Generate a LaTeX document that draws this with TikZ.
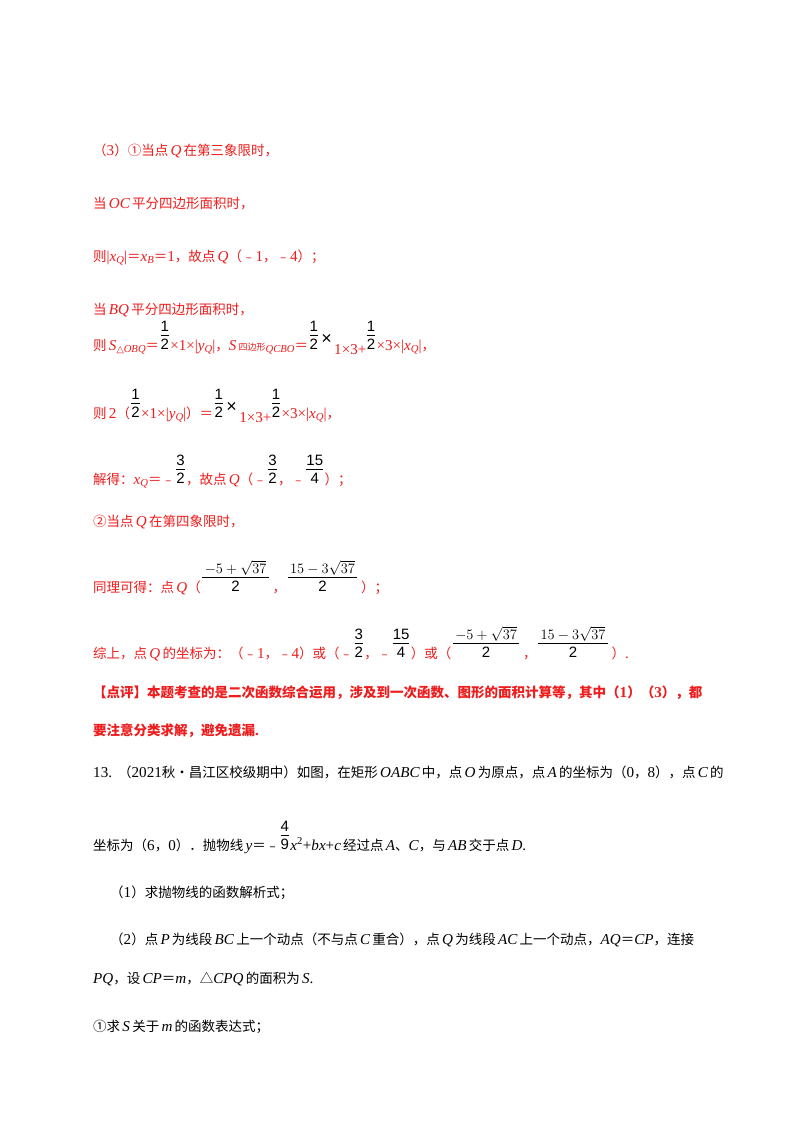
\documentclass[tikz,border=0pt]{standalone}
\usepackage{fontspec}
\setmainfont{Noto Sans CJK SC}
\newfontfamily\tm{Liberation Serif}[Scale=1.12]
\newfontfamily\ar{Liberation Sans}
\newfontfamily\djv{DejaVu Sans}
\definecolor{rd}{RGB}{238,28,28}
\newcommand\I[1]{{\tm\itshape #1}}
\newcommand\R[1]{{\tm #1}}
\newcommand\sub[1]{\raisebox{-2.5pt}{\fontsize{9.5}{10}\selectfont\tm\itshape #1}}
\newcommand\Fr[4]{\node[fr] (#1) at ([xshift=1pt,yshift=-5pt]#2.base east) {\begin{tabular}{@{}c@{}}#3\\[-1pt]\hline\rule{0pt}{14pt}#4\end{tabular}};}
\newcommand\Af[3]{\node[t,#3] (#1) at ([xshift=1pt,yshift=5pt]#2.south east) }
\begin{document}
\begin{tikzpicture}[x=1pt,y=-1pt,
 t/.style={anchor=base west,inner sep=0,text=rd,font=\fontsize{13.5}{16}\selectfont},
 k/.style={t,text=black},
 fr/.style={inner sep=0,anchor=south west,font=\ar\fontsize{15}{17}\selectfont,text=black},
 tx/.style={t,text=black,font=\ar\fontsize{18}{18}\selectfont}]
\useasboundingbox[fill=white] (0,0) rectangle (800,1132);
\node[t] (l1) at (93,155) {（\R{3}）①当点\,\I{Q}\,在第三象限时，};
\node[t] (l2) at (93,208) {当\,\I{OC}\,平分四边形面积时，};
\node[t] (l3) at (93,261) {则\R{|}\I{x}\sub{Q}\R{|}＝\I{x}\sub{B}＝\R{1}，故点\,\I{Q}（﹣\R{1}，﹣\R{4}）；};
\node[t] (l4) at (93,314) {当\,\I{BQ}\,平分四边形面积时，};
% line 5
\node[t] (l5a) at (93,350) {则\,\I{S}\raisebox{-2.5pt}{\fontsize{9.5}{10}\selectfont\djv △}\sub{OBQ}＝};
\Fr{f1}{l5a}{1}{2}
\Af{l5b}{f1}{}{\R{×1×|}\I{y}\sub{Q}\R{|}，\I{S}\,{\fontsize{9}{9}\selectfont 四边形}\sub{QCBO}＝};
\Fr{f2}{l5b}{1}{2}
\node[tx] (x1) at ([xshift=3pt,yshift=11pt]f2.south east) {×};
\node[t] (l5c) at ([xshift=2pt,yshift=-10pt]x1.base east) {\R{1×3+}};
\node[fr] (f3) at ([yshift=-1pt]l5c.base east) {\begin{tabular}{@{}c@{}}1\\[-1pt]\hline\rule{0pt}{14pt}2\end{tabular}};
\node[t] (l5d) at ([xshift=1pt]f3.south east |- l5a.base) {\R{×3×|}\I{x}\sub{Q}\R{|}，};
% line 6
\node[t] (l6a) at (93,418) {则\,\R{2}（};
\Fr{f4}{l6a}{1}{2}
\Af{l6b}{f4}{}{\R{×1×|}\I{y}\sub{Q}\R{|}）＝};
\Fr{f5}{l6b}{1}{2}
\node[tx] (x2) at ([xshift=3pt,yshift=11pt]f5.south east) {×};
\node[t] (l6c) at ([xshift=2pt,yshift=-10pt]x2.base east) {\R{1×3+}};
\node[fr] (f6) at ([yshift=-1pt]l6c.base east) {\begin{tabular}{@{}c@{}}1\\[-1pt]\hline\rule{0pt}{14pt}2\end{tabular}};
\node[t] (l6d) at ([xshift=1pt]f6.south east |- l6a.base) {\R{×3×|}\I{x}\sub{Q}\R{|}，};
% line 7
\node[t] (l7a) at (93,484) {解得：\I{x}\sub{Q}＝﹣};
\Fr{f7}{l7a}{3}{2}
\Af{l7b}{f7}{}{，故点\,\I{Q}（﹣};
\Fr{f8}{l7b}{3}{2}
\Af{l7c}{f8}{}{，﹣};
\Fr{f9}{l7c}{15}{4}
\Af{l7d}{f9}{}{）；};
\node[t] (l8) at (93,526) {②当点\,\I{Q}\,在第四象限时，};
% line 9
\node[t] (l9a) at (93,592) {同理可得：点\,\I{Q}（};
\Fr{f10}{l9a}{\,$-5+\sqrt{37}$\,}{2}
\Af{l9b}{f10}{}{\,，};
\Fr{f11}{l9b}{\,$15-3\sqrt{37}$\,}{2}
\Af{l9c}{f11}{}{\,）；};
% line 10
\node[t] (l10a) at (93,658) {综上，点\,\I{Q}\,的坐标为：（﹣\R{1}，﹣\R{4}）或（﹣};
\Fr{f12}{l10a}{3}{2}
\Af{l10b}{f12}{}{，﹣};
\Fr{f13}{l10b}{15}{4}
\Af{l10c}{f13}{}{）或（};
\Fr{f14}{l10c}{\,$-5+\sqrt{37}$\,}{2}
\Af{l10d}{f14}{}{\,，};
\Fr{f15}{l10d}{\,$15-3\sqrt{37}$\,}{2}
\Af{l10e}{f15}{}{\,）\R{.}};
\node[t,font=\bfseries\fontsize{13.5}{16}\selectfont] (l11) at (93,697) {【点评】本题考查的是二次函数综合运用，涉及到一次函数、图形的面积计算等，其中（\R{1}）（\R{3}），都};
\node[t,font=\bfseries\fontsize{13.5}{16}\selectfont] (l12) at (93,735) {要注意分类求解，避免遗漏\R{.}};
% problem 13
\node[k] (p1) at (93,777) {\R{13.}\ \ （\R{2021}秋•昌江区校级期中）如图，在矩形\,\I{OABC}\,中，点\,\I{O}\,为原点，点\,\I{A}\,的坐标为（\R{0}，\R{8}），点\,\I{C}\,的};
\node[k] (p2a) at (93,850) {坐标为（\R{6}，\R{0}）．抛物线\,\I{y}＝﹣};
\Fr{f16}{p2a}{4}{9}
\Af{p2b}{f16}{k}{\I{x}\R{\textsuperscript{2}+}\I{bx}\R{+}\I{c}\,经过点\,\I{A}、\I{C}，与\,\I{AB}\,交于点\,\I{D}\R{.}};
\node[k] (p3) at (110,897) {（\R{1}）求抛物线的函数解析式；};
\node[k] (p4) at (110,944) {（\R{2}）点\,\I{P}\,为线段\,\I{BC}\,上一个动点（不与点\,\I{C}\,重合），点\,\I{Q}\,为线段\,\I{AC}\,上一个动点，\I{AQ}＝\I{CP}，连接};
\node[k] (p5) at (93,983) {\I{PQ}，设\,\I{CP}＝\I{m}，△\I{CPQ}\,的面积为\,\I{S}\R{.}};
\node[k] (p6) at (93,1031) {①求\,\I{S}\,关于\,\I{m}\,的函数表达式；};
\end{tikzpicture}
\end{document}
